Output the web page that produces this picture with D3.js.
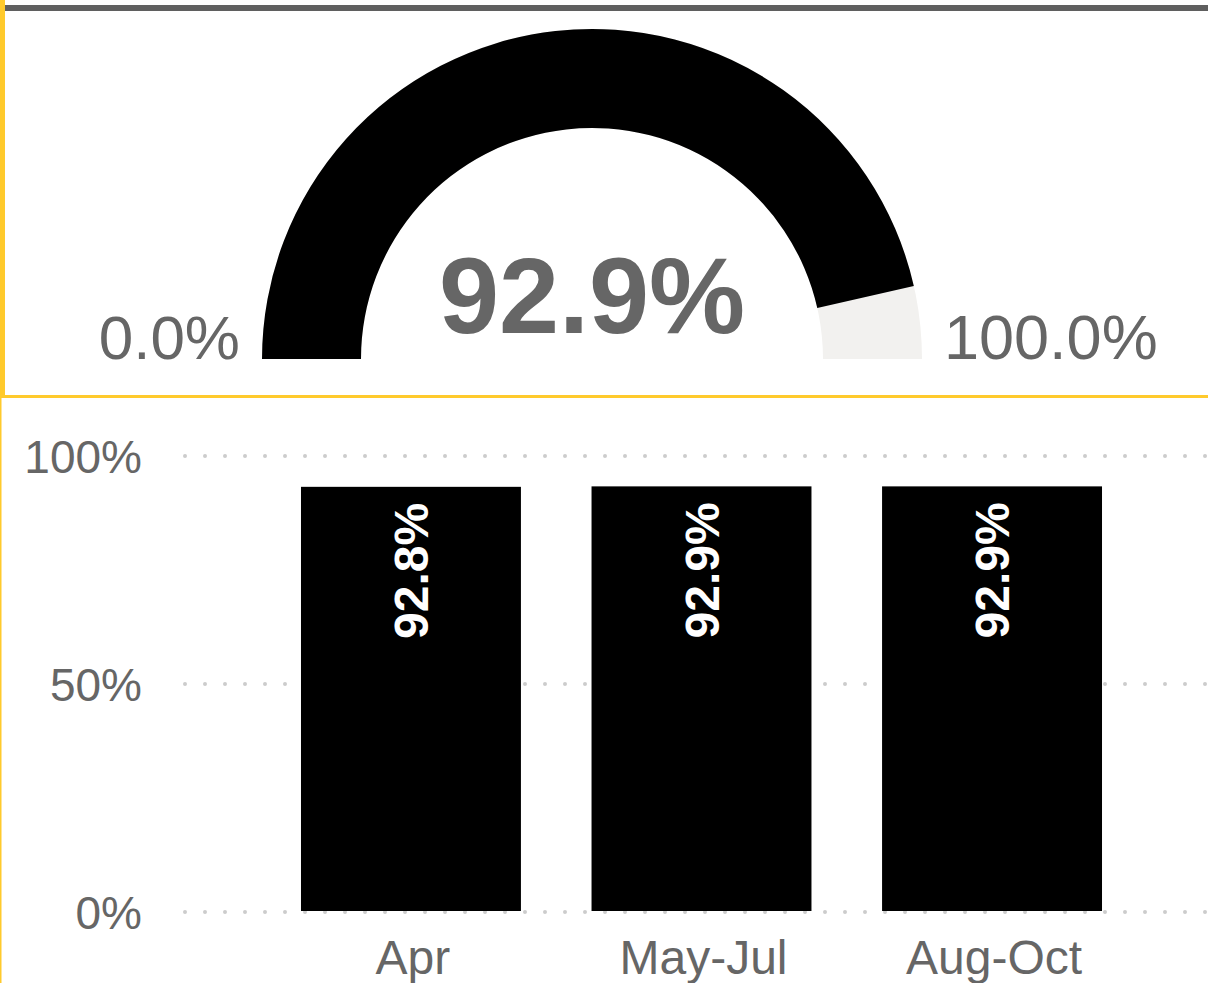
<!DOCTYPE html>
<html lang="en">
<head>
    <meta charset="UTF-8">
    <title>Gauge and bars</title>
    <script src="https://d3js.org/d3.v7.min.js"></script>
    <style>
        body {
            margin: 0;
            background: #fff;
            font-family: "Liberation Sans", Arial, sans-serif;
        }
        svg text {
            fill: #666;
        }
    </style>
</head>
<body>
    <div id="chart"></div>
    <script>
        // gauge
        const gaugeValue = 0.929;
        const gaugeMin = "0.0%";
        const gaugeMax = "100.0%";

        // bars
        const periods = ["Apr", "May-Jul", "Aug-Oct"];
        const rates = [0.928, 0.929, 0.929];
        const yTicks = [0, 0.5, 1];

        const width = 1208, height = 983;
        const svg = d3.select('#chart').append('svg')
            .attr('width', width)
            .attr('height', height);

        // frame lines
        svg.append('rect').attr('x', 0).attr('y', 5).attr('width', width).attr('height', 6).attr('fill', '#5f5f5f');
        svg.append('rect').attr('x', 0).attr('y', 0).attr('width', 5).attr('height', 397).attr('fill', '#ffca2c');
        svg.append('rect').attr('x', 0).attr('y', 395).attr('width', width).attr('height', 3).attr('fill', '#ffca2c');
        svg.append('rect').attr('x', 0).attr('y', 397).attr('width', 1.5).attr('height', height - 397).attr('fill', '#ffca2c');

        // ---- gauge ----
        const cx = 592, cy = 359;
        const angle = d3.scaleLinear().domain([0, 1]).range([-Math.PI / 2, Math.PI / 2]);
        const arc = d3.arc().innerRadius(231).outerRadius(330);
        const g = svg.append('g').attr('transform', `translate(${cx},${cy})`);

        g.append('path')
            .attr('d', arc({ startAngle: angle(0), endAngle: angle(1) }))
            .attr('fill', '#f2f1ef');
        g.append('path')
            .attr('d', arc({ startAngle: angle(0), endAngle: angle(gaugeValue) }))
            .attr('fill', '#000');

        g.append('text')
            .attr('x', 0).attr('y', -26)
            .attr('text-anchor', 'middle')
            .style('font-size', '108px')
            .style('font-weight', 'bold')
            .text(d3.format('.1%')(gaugeValue));

        g.append('text')
            .attr('x', -352).attr('y', 0)
            .attr('text-anchor', 'end')
            .style('font-size', '62px')
            .text(gaugeMin);

        g.append('text')
            .attr('x', 352).attr('y', 0)
            .attr('text-anchor', 'start')
            .style('font-size', '63px')
            .text(gaugeMax);

        // ---- bar chart ----
        const y = d3.scaleLinear().domain([0, 1]).range([912, 456]);
        const x = d3.scaleBand().domain(periods).range([190, 1213])
            .paddingInner(0.243).paddingOuter(0.382);

        // dotted gridlines
        svg.append('g').selectAll('line')
            .data(yTicks)
            .join('line')
            .attr('x1', 185).attr('x2', width)
            .attr('y1', d => y(d)).attr('y2', d => y(d))
            .attr('stroke', '#cccccc')
            .attr('stroke-width', 4)
            .attr('stroke-linecap', 'round')
            .attr('stroke-dasharray', '0 20');

        // y tick labels
        svg.append('g').selectAll('text')
            .data(yTicks)
            .join('text')
            .attr('x', 142)
            .attr('y', d => y(d) + 17)
            .attr('text-anchor', 'end')
            .style('font-size', '46px')
            .text(d => d3.format('.0%')(d));

        // bars
        svg.append('g').selectAll('rect')
            .data(rates)
            .join('rect')
            .attr('x', (d, i) => x(periods[i]))
            .attr('width', x.bandwidth())
            .attr('y', d => y(d) - 2)
            .attr('height', d => y(0) - 1 - y(d) + 2)
            .attr('fill', '#000');

        // bar labels, rotated
        svg.append('g').selectAll('text')
            .data(rates)
            .join('text')
            .attr('transform', (d, i) =>
                `translate(${x(periods[i]) + x.bandwidth() / 2 + 17},${y(d) + 14}) rotate(-90)`)
            .attr('text-anchor', 'end')
            .style('font-size', '48px')
            .style('font-weight', 'bold')
            .style('fill', '#fff')
            .text(d => d3.format('.1%')(d));

        // x labels
        svg.append('g').selectAll('text')
            .data(periods)
            .join('text')
            .attr('x', d => x(d) + x.bandwidth() / 2 + 2)
            .attr('y', 974)
            .attr('text-anchor', 'middle')
            .style('font-size', '48px')
            .text(d => d);
    </script>
</body>
</html>
